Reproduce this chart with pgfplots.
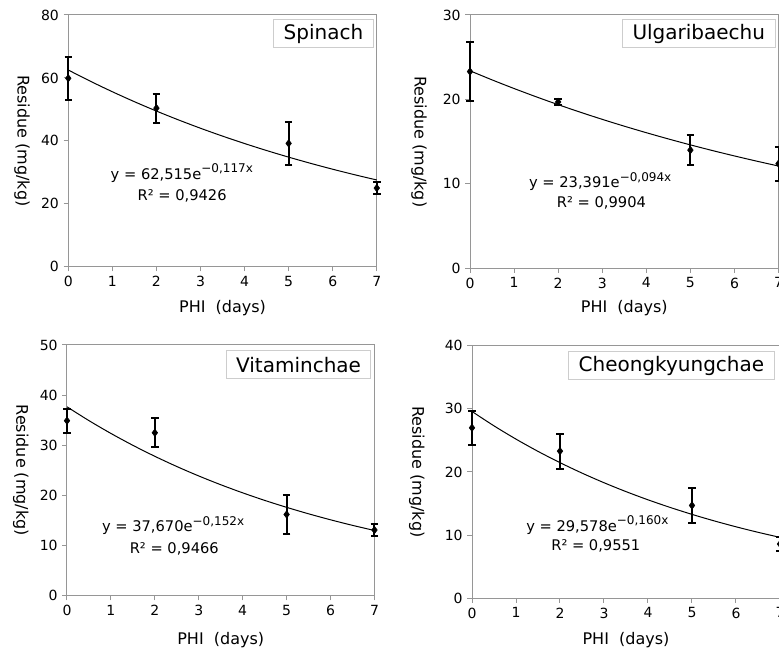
\documentclass[border=0pt]{standalone}
\usepackage{fontspec}
\setmainfont{DejaVu Sans}
\usepackage{pgfplots}
\pgfplotsset{compat=1.18}

\definecolor{axgray}{RGB}{150,150,150}
\definecolor{boxgray}{RGB}{205,205,205}

\newcommand{\expo}[1]{\raisebox{0.42em}{\fontsize{9}{10}\selectfont #1}}

\tikzset{
  titlebox/.style={draw=boxgray, line width=0.75pt, fill=white, anchor=north east,
    font=\fontsize{15}{18}\selectfont, inner xsep=7.5pt, inner ysep=0pt,
    minimum height=21pt},
  eqn/.style={font=\fontsize{11}{13}\selectfont, inner sep=0pt},
}

\pgfplotsset{
  residue/.style={
    scale only axis,
    xmin=0, xmax=7, ymin=0,
    xtick={0,...,7},
    axis line style={axgray, line width=0.75pt},
    tick style={axgray, line width=0.75pt},
    major tick length=3.5pt,
    tick align=outside,
    tick pos=left,
    /pgf/number format/assume math mode=true,
    ticklabel style={font=\fontsize{10.5}{12}\selectfont},
    label style={font=\fontsize{12}{14}\selectfont},
    xlabel={PHI\ \ (days)},
    ylabel={Residue (mg/kg)},
    clip=false,
  },
  fitline/.style={black, line width=0.75pt, smooth, no marks},
  pts/.style={only marks, mark=diamond*, mark size=2.8pt, black,
    error bars/.cd, y dir=both, y explicit,
    error bar style={line width=1.5pt, black},
    error mark options={rotate=90, mark size=2.8pt, line width=1.5pt, black}},
}

\begin{document}
\begin{tikzpicture}
\useasboundingbox (0,0) rectangle (584.25pt,494.25pt);

% Spinach
\begin{axis}[residue, at={(51.2pt,294.2pt)}, anchor=south west,
    width=231.4pt, height=188.8pt, ymax=80, ytick={0,20,...,80},
    xlabel style={at={(axis description cs:0.5,-0.164)}, anchor=center},
    ylabel style={at={(axis description cs:-0.150,0.5)}, anchor=center, rotate=180}]
\addplot[fitline] coordinates {
  (0,62.515)(0.5,58.963)(1,55.612)(1.5,52.453)(2,49.472)(2.5,46.662)(3,44.011)(3.5,41.510)
  (4,39.152)(4.5,36.927)(5,34.829)(5.5,32.851)(6,30.983)(6.5,29.223)(7,27.563)};
\addplot[pts] coordinates {
  (0,59.9) +- (0,6.9)
  (2,50.4) +- (0,4.6)
  (5,39.2) +- (0,6.9)
  (7,25.0) +- (0,1.8)};
\node[titlebox] at ([xshift=-2.25pt,yshift=-3pt]rel axis cs:1,1) {Spinach};
\node[eqn] at (rel axis cs:0.368,0.372) {y = 62,515e\expo{−0,117x}};
\node[eqn] at (rel axis cs:0.369,0.281) {R² = 0,9426};
\end{axis}

% Ulgaribaechu
\begin{axis}[residue, at={(352.5pt,293.0pt)}, anchor=south west,
    width=231.4pt, height=190pt, ymax=30, ytick={0,10,20,30},
    xlabel style={at={(axis description cs:0.5,-0.157)}, anchor=center},
    ylabel style={at={(axis description cs:-0.165,0.5)}, anchor=center, rotate=180}]
\addplot[fitline] coordinates {
  (0,23.391)(0.5,22.317)(1,21.292)(1.5,20.315)(2,19.382)(2.5,18.492)(3,17.643)(3.5,16.833)
  (4,16.061)(4.5,15.323)(5,14.619)(5.5,13.948)(6,13.308)(6.5,12.697)(7,12.114)};
\addplot[pts] coordinates {
  (0,23.3) +- (0,3.5)
  (2,19.7) +- (0,0.3)
  (5,14.0) +- (0,1.8)
  (7,12.4) +- (0,2.0)};
\node[titlebox] at ([xshift=-2.25pt,yshift=-3pt]rel axis cs:1,1) {Ulgaribaechu};
\node[eqn] at (rel axis cs:0.422,0.341) {y = 23,391e\expo{−0,094x}};
\node[eqn] at (rel axis cs:0.426,0.258) {R² = 0,9904};
\end{axis}

% Vitaminchae
\begin{axis}[residue, at={(50.25pt,47.5pt)}, anchor=south west,
    width=230.6pt, height=188pt, ymax=50, ytick={0,10,...,50},
    xlabel style={at={(axis description cs:0.5,-0.177)}, anchor=center},
    ylabel style={at={(axis description cs:-0.150,0.5)}, anchor=center, rotate=180}]
\addplot[fitline] coordinates {
  (0,37.670)(0.5,34.913)(1,32.358)(1.5,29.990)(2,27.796)(2.5,25.761)(3,23.876)(3.5,22.128)
  (4,20.509)(4.5,19.008)(5,17.617)(5.5,16.328)(6,15.133)(6.5,14.025)(7,12.999)};
\addplot[pts] coordinates {
  (0,34.9) +- (0,2.4)
  (2,32.5) +- (0,2.9)
  (5,16.2) +- (0,3.9)
  (7,13.1) +- (0,1.25)};
\node[titlebox] at ([xshift=-2.25pt,yshift=-4pt]rel axis cs:1,1) {Vitaminchae};
\node[eqn] at (rel axis cs:0.345,0.278) {y = 37,670e\expo{−0,152x}};
\node[eqn] at (rel axis cs:0.349,0.186) {R² = 0,9466};
\end{axis}

% Cheongkyungchae
\begin{axis}[residue, at={(354pt,45.5pt)}, anchor=south west,
    width=231pt, height=189.5pt, ymax=40, ytick={0,10,...,40},
    xlabel style={at={(axis description cs:0.5,-0.165)}, anchor=center},
    ylabel style={at={(axis description cs:-0.179,0.5)}, anchor=center, rotate=180}]
\addplot[fitline] coordinates {
  (0,29.578)(0.5,27.304)(1,25.205)(1.5,23.267)(2,21.478)(2.5,19.827)(3,18.302)(3.5,16.895)
  (4,15.596)(4.5,14.397)(5,13.290)(5.5,12.268)(6,11.325)(6.5,10.454)(7,9.651)};
\addplot[pts] coordinates {
  (0,27.0) +- (0,2.7)
  (2,23.3) +- (0,2.75)
  (5,14.7) +- (0,2.75)
  (7,8.6) +- (0,1.1)};
\node[titlebox] at ([xshift=-4pt,yshift=-4pt]rel axis cs:1,1) {Cheongkyungchae};
\node[eqn] at (rel axis cs:0.407,0.290) {y = 29,578e\expo{−0,160x}};
\node[eqn] at (rel axis cs:0.402,0.207) {R² = 0,9551};
\end{axis}
\end{tikzpicture}
\end{document}
